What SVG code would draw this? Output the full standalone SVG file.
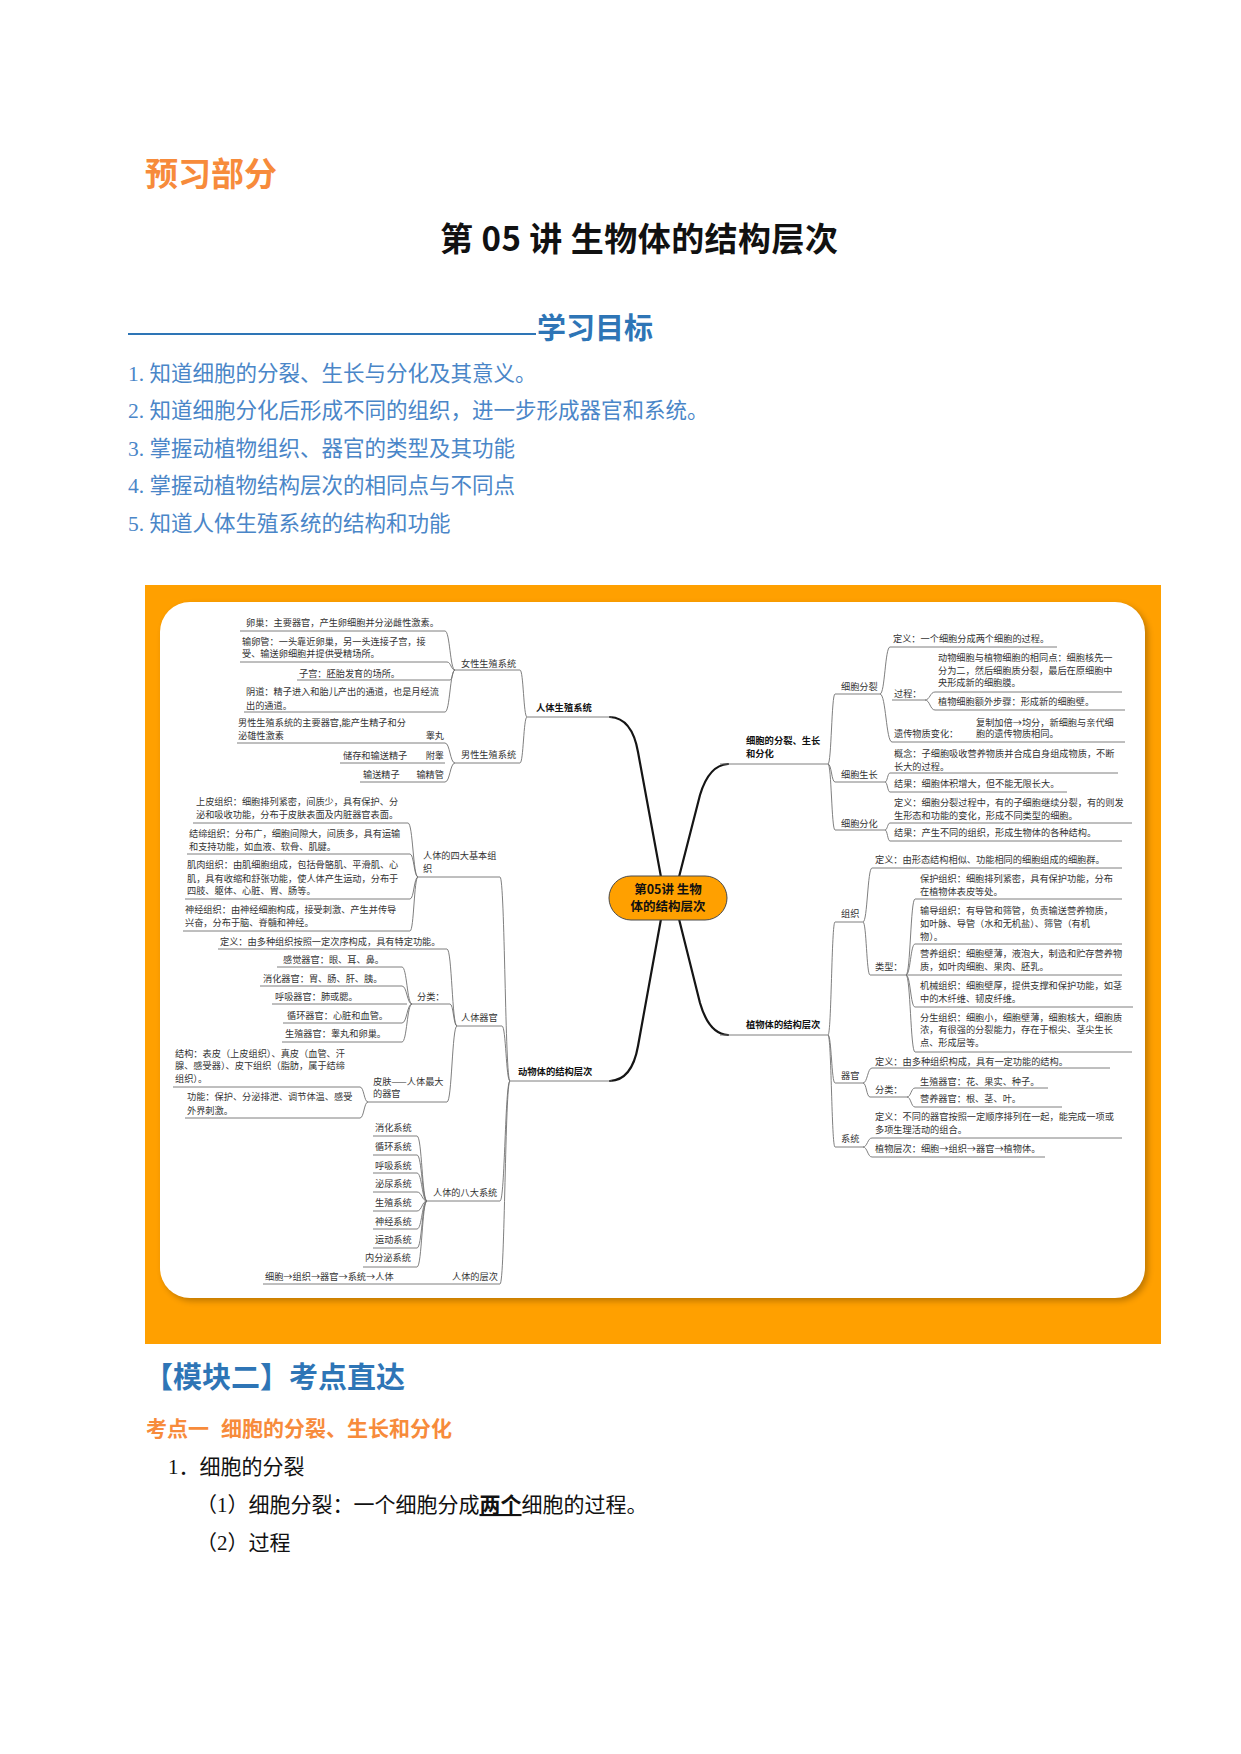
<svg xmlns="http://www.w3.org/2000/svg" width="1241" height="1754" viewBox="0 0 1241 1754">
<defs>
<style>
.h{font-family:"Noto Sans CJK SC","Noto Sans",sans-serif;font-weight:bold}
.li{font-family:"Liberation Serif","Noto Sans CJK SC",serif;font-size:21.5px;fill:#4A86C8}
.bd{font-family:"Liberation Serif","Noto Sans CJK SC",serif;font-size:21px;fill:#111}
.t{font-family:"Noto Sans CJK SC","Noto Sans",sans-serif;font-size:9.2px;fill:#333}
.m{font-family:"Noto Sans CJK SC","Noto Sans",sans-serif;font-size:9.3px;fill:#111;font-weight:bold}
.r{text-anchor:end}
.ln{stroke:#707070;stroke-width:0.9;fill:none}
.mb{stroke:#151515;stroke-width:2.2;fill:none;stroke-linecap:round}
</style>
<filter id="sh" x="-5%" y="-5%" width="110%" height="110%"><feGaussianBlur stdDeviation="3"/></filter>
</defs>
<rect width="1241" height="1754" fill="#fff"/>

<g id="header">
<text class="h" x="145" y="186" font-size="33" fill="#F78B3B">预习部分</text>
<text class="h" x="440" y="251" font-size="33" fill="#111" textLength="398" lengthAdjust="spacing">第 05 讲 生物体的结构层次</text>
<line x1="128" y1="334" x2="536" y2="334" stroke="#2E75B6" stroke-width="2"/>
<text class="h" x="537" y="339" font-size="29" fill="#2E75B6">学习目标</text>
<text class="li" x="128" y="381">1. 知道细胞的分裂、生长与分化及其意义。</text>
<text class="li" x="128" y="418">2. 知道细胞分化后形成不同的组织，进一步形成器官和系统。</text>
<text class="li" x="128" y="456">3. 掌握动植物组织、器官的类型及其功能</text>
<text class="li" x="128" y="493">4. 掌握动植物结构层次的相同点与不同点</text>
<text class="li" x="128" y="531">5. 知道人体生殖系统的结构和功能</text>
</g>

<g id="frame">
<rect x="145" y="585" width="1016" height="759" fill="#FFA000"/>
<rect x="163" y="605" width="985" height="696" rx="30" fill="#000" opacity="0.25" filter="url(#sh)"/>
<rect x="160" y="602" width="985" height="696" rx="30" fill="#fff"/>
</g>

<g id="connectors">
<path class="mb" d="M661,877 L638,752 Q632,718 610,717"/>
<path class="mb" d="M661,919 L638,1046 Q632,1080 610,1081"/>
<path class="mb" d="M679,877 L700,795 Q709,765 728,764"/>
<path class="mb" d="M679,919 L700,1003 Q709,1034 728,1035"/>
<g class="ln">
<path d="M527,717H612 M455,670H520 M455,763H520 M240,631H445 M240,662H447 M297,680H450 M244,712H445 M237,743H445 M340,763H445 M360,782H445"/>
<path d="M510,1081H612 M418,877H500 M193,823H408 M187,854H410 M185,899H410 M183,931H410 M457,1026H502 M218,949H447 M412,1004H450 M277,967H402 M260,986H402 M272,1004H407 M283,1023H402 M282,1042H402 M368,1102H447 M173,1087H360 M185,1118H360"/>
<path d="M427,1201H500 M373,1136H417 M373,1155H417 M373,1173H417 M373,1192H417 M373,1211H417 M373,1229H417 M373,1248H417 M363,1267H417 M263,1284H500"/>
<path d="M720,764H828 M835,694H880 M890,647H1057 M892,700H925 M935,692H1122 M935,710H1125 M892,742H1125 M835,782H885 M890,773H1118 M890,792H1067 M835,830H885 M890,823H1132 M890,841H1122"/>
<path d="M720,1035H828 M835,922H863 M872,868H1122 M870,975H1122 M915,899H1122 M915,944H1122 M915,1007H1133 M915,1052H1132 M835,1083H863 M872,1068H1110 M870,1097H907 M915,1088H1048 M915,1107H1062 M835,1147H863 M872,1138H1122 M872,1157H1045"/>
</g>
<g class="ln">
<path d="M527,717C523.5,717 523.5,670 520,670 M527,717C523.5,717 523.5,763 520,763"/>
<path d="M455,670C450,670 450,631 445,631 M455,670C451,670 451,662 447,662 M455,670C452.5,670 452.5,680 450,680 M455,670C450,670 450,712 445,712"/>
<path d="M455,763C450,763 450,743 445,743 M455,763C450,763 450,782 445,782"/>
<path d="M510,1081C505,1081 505,877 500,877 M510,1081C506,1081 506,1026 502,1026 M510,1081C505,1081 505,1201 500,1201 M510,1081C505,1081 505,1284 500,1284"/>
<path d="M418,877C413,877 413,823 408,823 M418,877C414,877 414,854 410,854 M418,877C414,877 414,899 410,899 M418,877C414,877 414,931 410,931"/>
<path d="M457,1026C452,1026 452,949 447,949 M457,1026C453.5,1026 453.5,1004 450,1004 M457,1026C452,1026 452,1102 447,1102"/>
<path d="M412,1004C407,1004 407,967 402,967 M412,1004C407,1004 407,986 402,986 M412,1004C407,1004 407,1023 402,1023 M412,1004C407,1004 407,1042 402,1042"/>
<path d="M368,1102C364,1102 364,1087 360,1087 M368,1102C364,1102 364,1118 360,1118"/>
<path d="M427,1201C422,1201 422,1136 417,1136 M427,1201C422,1201 422,1155 417,1155 M427,1201C422,1201 422,1173 417,1173 M427,1201C422,1201 422,1192 417,1192 M427,1201C422,1201 422,1211 417,1211 M427,1201C422,1201 422,1229 417,1229 M427,1201C422,1201 422,1248 417,1248 M427,1201C422,1201 422,1267 417,1267"/>
<path d="M828,764C831.5,764 831.5,694 835,694 M828,764C831.5,764 831.5,782 835,782 M828,764C831.5,764 831.5,830 835,830"/>
<path d="M880,694C885,694 885,647 890,647 M880,694C886,694 886,742 892,742"/>
<path d="M925,700C930,700 930,692 935,692 M925,700C930,700 930,710 935,710"/>
<path d="M885,782C887.5,782 887.5,773 890,773 M885,782C887.5,782 887.5,792 890,792"/>
<path d="M885,830C887.5,830 887.5,823 890,823 M885,830C887.5,830 887.5,841 890,841"/>
<path d="M828,1035C831.5,1035 831.5,922 835,922 M828,1035C831.5,1035 831.5,1083 835,1083 M828,1035C831.5,1035 831.5,1147 835,1147"/>
<path d="M863,922C867.5,922 867.5,868 872,868 M863,922C866.5,922 866.5,975 870,975"/>
<path d="M906,975C910.5,975 910.5,899 915,899 M906,975C910.5,975 910.5,944 915,944 M906,975C910.5,975 910.5,1007 915,1007 M906,975C910.5,975 910.5,1052 915,1052"/>
<path d="M863,1083C867.5,1083 867.5,1068 872,1068 M863,1083C866.5,1083 866.5,1097 870,1097"/>
<path d="M907,1097C911,1097 911,1088 915,1088 M907,1097C911,1097 911,1107 915,1107"/>
<path d="M863,1147C867.5,1147 867.5,1138 872,1138 M863,1147C867.5,1147 867.5,1157 872,1157"/>
</g>
</g>

<g id="center-node">
<rect x="609" y="876" width="118" height="44" rx="22" fill="#FFA000" stroke="#4a4a4a" stroke-width="1"/>
<text class="h" x="668" y="894" font-size="12.5" fill="#111" text-anchor="middle">第05讲 生物</text>
<text class="h" x="668" y="911" font-size="12.5" fill="#111" text-anchor="middle">体的结构层次</text>
</g>

<g id="n-reproduction">
<text class="m" x="536" y="711">人体生殖系统</text>
</g>
<g id="n-female">
<text class="t" x="461" y="667">女性生殖系统</text>
<text class="t" x="246" y="626">卵巢：主要器官，产生卵细胞并分泌雌性激素。</text>
<text class="t" x="242" y="645">输卵管：一头靠近卵巢，另一头连接子宫，接</text>
<text class="t" x="242" y="657">受、输送卵细胞并提供受精场所。</text>
<text class="t" x="299" y="677">子宫：胚胎发育的场所。</text>
<text class="t" x="246" y="695">阴道：精子进入和胎儿产出的通道，也是月经流</text>
<text class="t" x="246" y="709">出的通道。</text>
</g>
<g id="n-male">
<text class="t" x="461" y="758">男性生殖系统</text>
<text class="t" x="238" y="726">男性生殖系统的主要器官,能产生精子和分</text>
<text class="t" x="238" y="739">泌雄性激素</text>
<text class="t r" x="444" y="739">睾丸</text>
<text class="t" x="343" y="759">储存和输送精子</text>
<text class="t r" x="444" y="759">附睾</text>
<text class="t" x="363" y="778">输送精子</text>
<text class="t r" x="444" y="778">输精管</text>
</g>

<g id="n-animal">
<text class="m" x="518" y="1075">动物体的结构层次</text>
</g>
<g id="n-tissues">
<text class="t" x="423" y="859">人体的四大基本组</text>
<text class="t" x="423" y="872">织</text>
<text class="t" x="196" y="805">上皮组织：细胞排列紧密，间质少，具有保护、分</text>
<text class="t" x="196" y="818">泌和吸收功能，分布于皮肤表面及内脏器官表面。</text>
<text class="t" x="189" y="837">结缔组织：分布广，细胞间隙大，间质多，具有运输</text>
<text class="t" x="189" y="850">和支持功能，如血液、软骨、肌腱。</text>
<text class="t" x="187" y="868">肌肉组织：由肌细胞组成，包括骨骼肌、平滑肌、心</text>
<text class="t" x="187" y="882">肌，具有收缩和舒张功能，使人体产生运动，分布于</text>
<text class="t" x="187" y="894">四肢、躯体、心脏、胃、肠等。</text>
<text class="t" x="185" y="913">神经组织：由神经细胞构成，接受刺激、产生并传导</text>
<text class="t" x="185" y="926">兴奋，分布于脑、脊髓和神经。</text>
</g>
<g id="n-organs">
<text class="t" x="461" y="1021">人体器官</text>
<text class="t" x="220" y="945">定义：由多种组织按照一定次序构成，具有特定功能。</text>
<text class="t" x="417" y="1000">分类：</text>
<text class="t" x="283" y="963">感觉器官：眼、耳、鼻。</text>
<text class="t" x="263" y="982">消化器官：胃、肠、肝、胰。</text>
<text class="t" x="275" y="1000">呼吸器官：肺或腮。</text>
<text class="t" x="287" y="1019">循环器官：心脏和血管。</text>
<text class="t" x="285" y="1037">生殖器官：睾丸和卵巢。</text>
<text class="t" x="373" y="1085">皮肤——人体最大</text>
<text class="t" x="373" y="1097">的器官</text>
<text class="t" x="175" y="1057">结构：表皮（上皮组织）、真皮（血管、汗</text>
<text class="t" x="175" y="1069">腺、感受器）、皮下组织（脂肪，属于结缔</text>
<text class="t" x="175" y="1082">组织）。</text>
<text class="t" x="187" y="1100">功能：保护、分泌排泄、调节体温、感受</text>
<text class="t" x="187" y="1114">外界刺激。</text>
</g>
<g id="n-systems">
<text class="t" x="433" y="1196">人体的八大系统</text>
<text class="t" x="375" y="1131">消化系统</text>
<text class="t" x="375" y="1150">循环系统</text>
<text class="t" x="375" y="1169">呼吸系统</text>
<text class="t" x="375" y="1187">泌尿系统</text>
<text class="t" x="375" y="1206">生殖系统</text>
<text class="t" x="375" y="1225">神经系统</text>
<text class="t" x="375" y="1243">运动系统</text>
<text class="t" x="365" y="1261">内分泌系统</text>
</g>
<g id="n-levels">
<text class="t" x="452" y="1280">人体的层次</text>
<text class="t" x="265" y="1280">细胞→组织→器官→系统→人体</text>
</g>

<g id="n-cell">
<text class="m" x="746" y="744">细胞的分裂、生长</text>
<text class="m" x="746" y="757">和分化</text>
</g>
<g id="n-division">
<text class="t" x="841" y="690">细胞分裂</text>
<text class="t" x="893" y="642">定义：一个细胞分成两个细胞的过程。</text>
<text class="t" x="894" y="697">过程：</text>
<text class="t" x="938" y="661">动物细胞与植物细胞的相同点：细胞核先一</text>
<text class="t" x="938" y="674">分为二，然后细胞质分裂，最后在原细胞中</text>
<text class="t" x="938" y="686">央形成新的细胞膜。</text>
<text class="t" x="938" y="705">植物细胞额外步骤：形成新的细胞壁。</text>
<text class="t" x="894" y="737">遗传物质变化：</text>
<text class="t" x="976" y="726">复制加倍→均分，新细胞与亲代细</text>
<text class="t" x="976" y="737">胞的遗传物质相同。</text>
</g>
<g id="n-growth">
<text class="t" x="841" y="778">细胞生长</text>
<text class="t" x="894" y="757">概念：子细胞吸收营养物质并合成自身组成物质，不断</text>
<text class="t" x="894" y="770">长大的过程。</text>
<text class="t" x="894" y="787">结果：细胞体积增大，但不能无限长大。</text>
</g>
<g id="n-differentiation">
<text class="t" x="841" y="827">细胞分化</text>
<text class="t" x="894" y="806">定义：细胞分裂过程中，有的子细胞继续分裂，有的则发</text>
<text class="t" x="894" y="819">生形态和功能的变化，形成不同类型的细胞。</text>
<text class="t" x="894" y="836">结果：产生不同的组织，形成生物体的各种结构。</text>
</g>

<g id="n-plant">
<text class="m" x="746" y="1028">植物体的结构层次</text>
</g>
<g id="n-ptissue">
<text class="t" x="841" y="917">组织</text>
<text class="t" x="875" y="863">定义：由形态结构相似、功能相同的细胞组成的细胞群。</text>
<text class="t" x="875" y="970">类型：</text>
<text class="t" x="920" y="882">保护组织：细胞排列紧密，具有保护功能，分布</text>
<text class="t" x="920" y="895">在植物体表皮等处。</text>
<text class="t" x="920" y="914">输导组织：有导管和筛管，负责输送营养物质，</text>
<text class="t" x="920" y="927">如叶脉、导管（水和无机盐）、筛管（有机</text>
<text class="t" x="920" y="940">物）。</text>
<text class="t" x="920" y="957">营养组织：细胞壁薄，液泡大，制造和贮存营养物</text>
<text class="t" x="920" y="970">质，如叶肉细胞、果肉、胚乳。</text>
<text class="t" x="920" y="989">机械组织：细胞壁厚，提供支撑和保护功能，如茎</text>
<text class="t" x="920" y="1002">中的木纤维、韧皮纤维。</text>
<text class="t" x="920" y="1021">分生组织：细胞小，细胞壁薄，细胞核大，细胞质</text>
<text class="t" x="920" y="1033">浓，有很强的分裂能力，存在于根尖、茎尖生长</text>
<text class="t" x="920" y="1046">点、形成层等。</text>
</g>
<g id="n-porgan">
<text class="t" x="841" y="1079">器官</text>
<text class="t" x="875" y="1065">定义：由多种组织构成，具有一定功能的结构。</text>
<text class="t" x="875" y="1093">分类：</text>
<text class="t" x="920" y="1085">生殖器官：花、果实、种子。</text>
<text class="t" x="920" y="1102">营养器官：根、茎、叶。</text>
</g>
<g id="n-psystem">
<text class="t" x="841" y="1142">系统</text>
<text class="t" x="875" y="1120">定义：不同的器官按照一定顺序排列在一起，能完成一项或</text>
<text class="t" x="875" y="1133">多项生理活动的组合。</text>
<text class="t" x="875" y="1152">植物层次：细胞→组织→器官→植物体。</text>
</g>

<g id="module2">
<text class="h" x="144" y="1388" font-size="29" fill="#2E75B6">【模块二】考点直达</text>
<text class="h" x="146" y="1436" font-size="21" fill="#F78B3B">考点一<tspan dx="12">细胞的分裂、生长和分化</tspan></text>
<text class="bd" x="168" y="1474">1．细胞的分裂</text>
<text class="bd" x="196" y="1512">（1）细胞分裂：一个细胞分成<tspan font-weight="bold" text-decoration="underline">两个</tspan>细胞的过程。</text>
<text class="bd" x="196" y="1550">（2）过程</text>
</g>
</svg>
